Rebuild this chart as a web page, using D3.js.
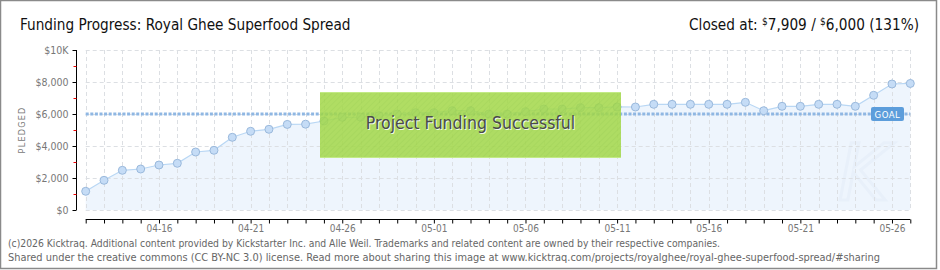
<!DOCTYPE html>
<html><head><meta charset="utf-8">
<script src="https://cdn.jsdelivr.net/npm/d3@7"></script>
<style>
html,body{margin:0;padding:0;background:#fff;}
svg{display:block;}
</style></head>
<body>
<script>
const title = "Funding Progress: Royal Ghee Superfood Spread";
const dates = ["04-12","04-13","04-14","04-15","04-16","04-17","04-18","04-19","04-20","04-21",
"04-22","04-23","04-24","04-25","04-26","04-27","04-28","04-29","04-30","05-01",
"05-02","05-03","05-04","05-05","05-06","05-07","05-08","05-09","05-10","05-11",
"05-12","05-13","05-14","05-15","05-16","05-17","05-18","05-19","05-20","05-21",
"05-22","05-23","05-24","05-25","05-26","05-27"];
const pledged = [1169,1856,2481,2562,2812,2919,3625,3731,4544,4919,
5044,5350,5365,5562,5794,5800,5896,6000,6083,6083,
6208,6208,6000,6000,6146,6312,6312,6396,6396,6440,
6437,6606,6606,6606,6606,6606,6731,6206,6481,6481,
6606,6606,6481,7169,7875,7909];
const goal = 6000;
const yTicks = [0,2000,4000,6000,8000,10000];
const yTickLabels = ["$0","$2,000","$4,000","$6,000","$8,000","$10K"];
const yMinorTicks = [1000,3000,5000,7000,9000];
const xLabelDates = ["04-16","04-21","04-26","05-01","05-06","05-11","05-16","05-21","05-26"];
const footer = ["(c)2026 Kicktraq. Additional content provided by Kickstarter Inc. and Alle Weil. Trademarks and related content are owned by their respective companies.",
"Shared under the creative commons (CC BY-NC 3.0) license. Read more about sharing this image at www.kicktraq.com/projects/royalghee/royal-ghee-superfood-spread/#sharing"];

const W = 940, H = 270;
const parse = s => new Date("2026-" + s + "T00:00:00");
const data = dates.map((d,i)=>({date:parse(d), v:pledged[i]}));

const svg = d3.select("body").append("svg").attr("width",W).attr("height",H);
const narrow = "'Liberation Sans Narrow','DejaVu Sans Condensed',sans-serif";
const small = "'DejaVu Sans Condensed','DejaVu Sans',sans-serif";

svg.append("rect").attr("x",0.5).attr("y",0.5).attr("width",936).attr("height",268)
  .attr("fill","#fff").attr("stroke","#8a8a8a").attr("stroke-width",1.5);

const defs = svg.append("defs");
const pat = defs.append("pattern").attr("id","hatch").attr("patternUnits","userSpaceOnUse")
  .attr("width",4).attr("height",4).attr("patternTransform","rotate(45)");
pat.append("rect").attr("width",4).attr("height",4).attr("fill","#a3d84a");
pat.append("line").attr("x1",0).attr("y1",0).attr("x2",0).attr("y2",4)
  .attr("stroke","#9ad043").attr("stroke-width",1.5);

const x = d3.scaleTime().domain([parse(dates[0]), parse(dates[dates.length-1])]).range([85.7, 910.3]);
const y = d3.scaleLinear().domain([0,10000]).range([210, 50]);

svg.append("text").attr("x",20).attr("y",30).attr("font-family",narrow).attr("font-size",15.2)
  .attr("fill","#111").text(title);

const ct = svg.append("text").attr("x",919).attr("y",30).attr("text-anchor","end")
  .attr("font-family",narrow).attr("font-size",15.2).attr("fill","#111");
ct.append("tspan").text("Closed at:  ");
ct.append("tspan").attr("font-size",10).attr("dy",-5).text("$");
ct.append("tspan").attr("dy",5).text("7,909 /  ");
ct.append("tspan").attr("font-size",10).attr("dy",-5).text("$");
ct.append("tspan").attr("dy",5).text("6,000 (131%)");

const area = d3.area().x(d=>x(d.date)).y0(y(0)).y1(d=>y(d.v));
svg.append("path").datum(data).attr("d",area).attr("fill","#eef5fd");

svg.append("text").attr("x",838).attr("y",200).attr("font-family","'DejaVu Sans',sans-serif")
  .attr("font-style","italic").attr("font-size",78).attr("fill","none")
  .attr("stroke","#e8f0fa").attr("stroke-width",3).text("K");

const grid = svg.append("g").attr("stroke","#dcdfe3").attr("stroke-dasharray","4,3").attr("stroke-width",1);
data.forEach(d=>{
  grid.append("line").attr("x1",Math.round(x(d.date))+0.5).attr("x2",Math.round(x(d.date))+0.5)
    .attr("y1",y(10000)).attr("y2",y(0));
});
yTicks.forEach(t=>{
  grid.append("line").attr("x1",x(data[0].date)).attr("x2",x(data[data.length-1].date))
    .attr("y1",Math.round(y(t))+0.5).attr("y2",Math.round(y(t))+0.5);
});

svg.append("line").attr("x1",x(data[0].date)).attr("x2",x(data[data.length-1].date))
  .attr("y1",y(goal)).attr("y2",y(goal)).attr("stroke","#8fb7e3").attr("stroke-width",3)
  .attr("stroke-dasharray","3,1.6");

const line = d3.line().x(d=>x(d.date)).y(d=>y(d.v));
svg.append("path").datum(data).attr("d",line).attr("fill","none").attr("stroke","#b9d7f4").attr("stroke-width",1.2);
svg.append("g").selectAll("circle").data(data).join("circle")
  .attr("cx",d=>x(d.date)).attr("cy",d=>y(d.v)).attr("r",4)
  .attr("fill","#c5dcf6").attr("stroke","#9ab9dc").attr("stroke-width",1);

const gl = svg.append("g");
gl.append("rect").attr("x",871).attr("y",107).attr("width",33).attr("height",14).attr("rx",2)
  .attr("fill","#5c9ddb");
gl.append("text").attr("x",887.5).attr("y",117.5).attr("text-anchor","middle")
  .attr("font-family",small).attr("font-size",9.5).attr("fill","#fff").attr("letter-spacing",0.5).text("GOAL");

const yAxis = d3.axisLeft(y).tickValues(yTicks).tickSize(4).tickFormat((d,i)=>yTickLabels[i]);
const ya = svg.append("g").attr("transform","translate(76.5,0)").call(yAxis);
ya.select(".domain").attr("stroke","#000").attr("d","M0,"+y(10000)+"V"+y(0));
ya.selectAll(".tick line").attr("stroke","#000");
ya.selectAll(".tick text").attr("font-family",small).attr("font-size",10.5).attr("fill","#777").attr("x",-8);
ya.append("g").selectAll("line").data(yMinorTicks).join("line")
  .attr("x1",-3).attr("x2",0).attr("y1",d=>Math.round(y(d))+0.5).attr("y2",d=>Math.round(y(d))+0.5)
  .attr("stroke","#e00");

svg.append("text").attr("transform","translate(25,130) rotate(-90)").attr("text-anchor","middle")
  .attr("font-family",small).attr("font-size",9).attr("letter-spacing",1.2).attr("fill","#777").text("PLEDGED");

const xAxis = d3.axisBottom(x).tickValues(data.map(d=>d.date)).tickSize(4)
  .tickFormat(d=>{ const s = d3.timeFormat("%m-%d")(d); return xLabelDates.includes(s)? s : ""; });
const xa = svg.append("g").attr("transform","translate(0,219.5)").call(xAxis);
xa.select(".domain").attr("stroke","#000").attr("d","M"+x(data[0].date)+",0H"+x(data[data.length-1].date));
xa.selectAll(".tick line").attr("stroke","#000");
xa.selectAll(".tick text").attr("font-family",small).attr("font-size",10).attr("fill","#777").attr("dy","0.6em").attr("y",6);

const bx = 320, by = 92, bw = 301, bh = 66;
svg.append("rect").attr("x",bx).attr("y",by).attr("width",bw).attr("height",bh)
  .attr("fill","url(#hatch)").attr("opacity",0.86);
svg.append("line").attr("x1",bx).attr("x2",bx+bw).attr("y1",by+0.5).attr("y2",by+0.5).attr("stroke","#c2ea85");
svg.append("line").attr("x1",bx).attr("x2",bx+bw).attr("y1",by+bh-0.5).attr("y2",by+bh-0.5).attr("stroke","#c2ea85");
const msg = "Project Funding Successful";
svg.append("text").attr("x",bx+bw/2+1).attr("y",130).attr("text-anchor","middle")
  .attr("font-family",narrow).attr("font-size",17.5).attr("fill","#f2f8e8").text(msg);
svg.append("text").attr("x",bx+bw/2).attr("y",129).attr("text-anchor","middle")
  .attr("font-family",narrow).attr("font-size",17.5).attr("fill","#4a4a4a").text(msg);

svg.append("text").attr("x",8).attr("y",247).attr("font-family",small).attr("font-size",10)
  .attr("fill","#666").attr("textLength",712).attr("lengthAdjust","spacingAndGlyphs").text(footer[0]);
svg.append("text").attr("x",8).attr("y",261).attr("font-family",small).attr("font-size",10)
  .attr("fill","#666").attr("textLength",872).attr("lengthAdjust","spacingAndGlyphs").text(footer[1]);
</script>
</body></html>
